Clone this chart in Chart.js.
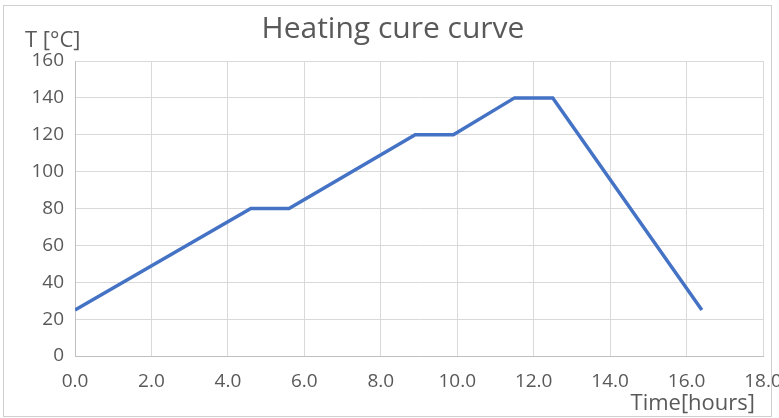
<!DOCTYPE html>
<html>
<head>
<meta charset="utf-8">
<script src="https://cdn.jsdelivr.net/npm/chart.js@4"></script>
<style>
  html, body { margin: 0; padding: 0; background: #fff; }
  #wrap { width: 779px; height: 418px; position: relative; }
</style>
</head>
<body>
<div id="wrap"><canvas id="cureChart" width="779" height="418"></canvas></div>
<script>
// Data
const timeHours = [0, 4.6, 5.6, 8.9, 9.9, 11.5, 12.5, 16.4];
const tempC = [25, 80, 80, 120, 120, 140, 140, 25];
const xTicks = [0, 2, 4, 6, 8, 10, 12, 14, 16, 18];
const yTicks = [0, 20, 40, 60, 80, 100, 120, 140, 160];

const FONT = '"Open Sans", Lato, sans-serif';
const TEXT = '#595959';

// Title, axis captions and outer frame drawn by hand (Excel-style layout)
const decorPlugin = {
    id: 'decor',
    afterDraw(chart) {
        const ctx = chart.ctx;
        const a = chart.chartArea;
        ctx.save();
        ctx.strokeStyle = '#d0d0d0';
        ctx.lineWidth = 1;
        ctx.strokeRect(3.5, 5.5, 768, 411);

        ctx.fillStyle = TEXT;
        ctx.textBaseline = 'middle';
        ctx.font = '30px ' + FONT;
        ctx.textAlign = 'center';
        ctx.fillText('Heating cure curve', 393, 29);

        ctx.font = '22px ' + FONT;
        ctx.textAlign = 'left';
        ctx.fillText('T [°C]', 25, 41);
        ctx.textAlign = 'right';
        ctx.fillText('Time[hours]', a.right - 8, 404);
        ctx.restore();
    }
};

new Chart(document.getElementById('cureChart'), {
    type: 'line',
    data: {
        datasets: [{
            data: timeHours.map((t, i) => ({ x: t, y: tempC[i] })),
            borderColor: '#4472C4',
            borderWidth: 3.5,
            pointRadius: 0,
            tension: 0,
            fill: false
        }]
    },
    options: {
        responsive: false,
        animation: false,
        layout: { padding: { top: 61, right: 16, left: 0, bottom: 0 } },
        plugins: {
            legend: { display: false },
            tooltip: { enabled: false }
        },
        scales: {
            x: {
                type: 'linear',
                min: 0,
                max: 18,
                afterBuildTicks: s => { s.ticks = xTicks.map(v => ({ value: v })); },
                afterFit: s => { s.height = 62; s.paddingRight = 0; s.paddingLeft = 0; },
                grid: { color: '#d9d9d9', lineWidth: 1, drawTicks: false },
                border: { display: true, color: '#bfbfbf', width: 1 },
                ticks: {
                    color: TEXT,
                    font: { family: FONT, size: 19 },
                    padding: 14,
                    maxRotation: 0,
                    callback: v => v.toFixed(1)
                }
            },
            y: {
                min: 0,
                max: 160,
                afterBuildTicks: s => { s.ticks = yTicks.map(v => ({ value: v })); },
                afterFit: s => { s.width = 75; s.paddingTop = 0; s.paddingBottom = 0; },
                grid: { color: '#d9d9d9', lineWidth: 1, drawTicks: false },
                border: { display: true, color: '#bfbfbf', width: 1 },
                ticks: {
                    color: TEXT,
                    font: { family: FONT, size: 19 },
                    padding: 11
                }
            }
        }
    },
    plugins: [decorPlugin]
});
</script>
</body>
</html>
